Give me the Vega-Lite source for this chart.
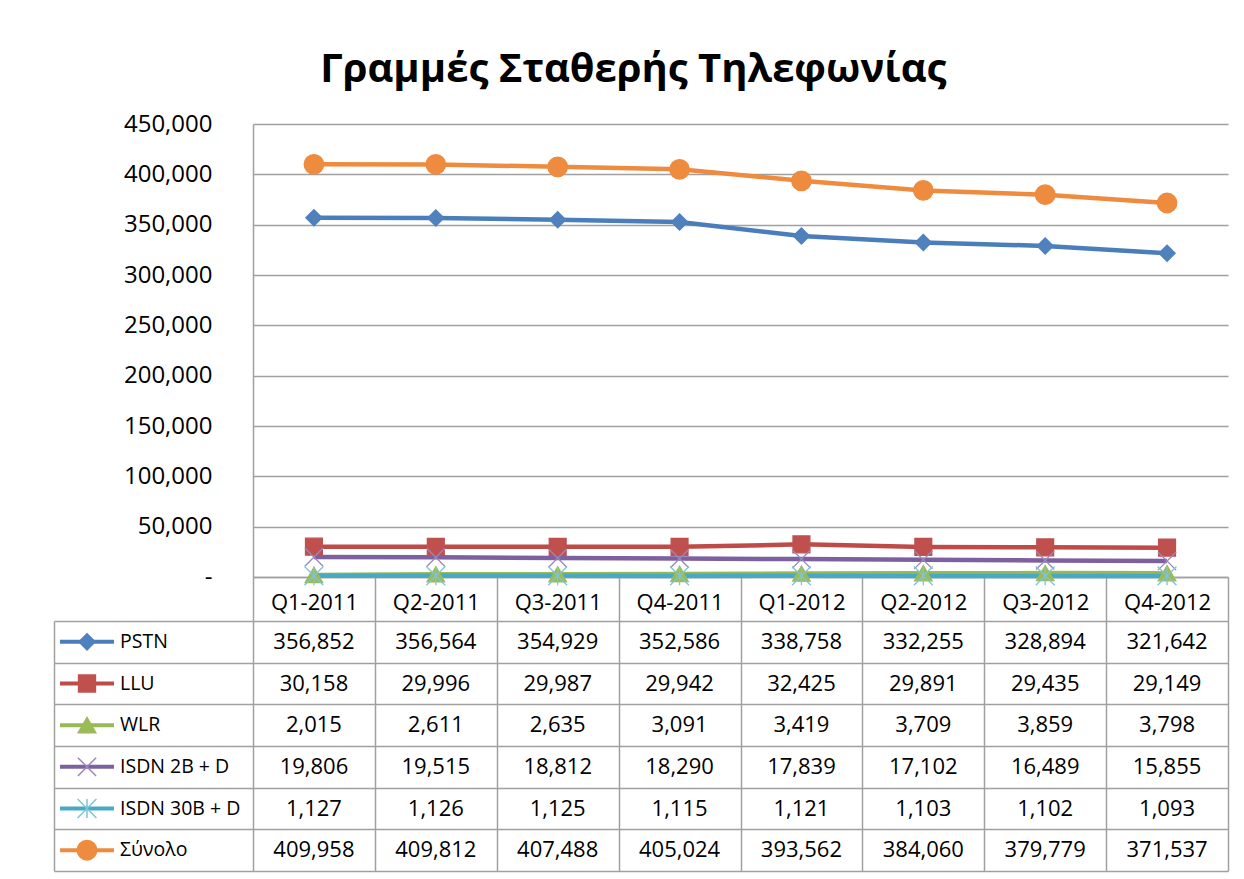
{
  "$schema": "https://vega.github.io/schema/vega-lite/v6.json",
  "padding": {"left": 54, "top": 50, "right": 16, "bottom": 8},
  "background": "white",
  "title": {"text": "Γραμμές Σταθερής Τηλεφωνίας", "fontSize": 40, "fontWeight": "bold", "font": "Open Sans", "color": "#000000", "anchor": "middle", "dx": -8, "offset": 22},
  "config": {"font": "Open Sans", "view": {"stroke": null}},
  "datasets": {
    "d": [
      {"series": "PSTN", "quarter": "Q1-2011", "value": 356852},
      {"series": "PSTN", "quarter": "Q2-2011", "value": 356564},
      {"series": "PSTN", "quarter": "Q3-2011", "value": 354929},
      {"series": "PSTN", "quarter": "Q4-2011", "value": 352586},
      {"series": "PSTN", "quarter": "Q1-2012", "value": 338758},
      {"series": "PSTN", "quarter": "Q2-2012", "value": 332255},
      {"series": "PSTN", "quarter": "Q3-2012", "value": 328894},
      {"series": "PSTN", "quarter": "Q4-2012", "value": 321642},
      {"series": "LLU", "quarter": "Q1-2011", "value": 30158},
      {"series": "LLU", "quarter": "Q2-2011", "value": 29996},
      {"series": "LLU", "quarter": "Q3-2011", "value": 29987},
      {"series": "LLU", "quarter": "Q4-2011", "value": 29942},
      {"series": "LLU", "quarter": "Q1-2012", "value": 32425},
      {"series": "LLU", "quarter": "Q2-2012", "value": 29891},
      {"series": "LLU", "quarter": "Q3-2012", "value": 29435},
      {"series": "LLU", "quarter": "Q4-2012", "value": 29149},
      {"series": "WLR", "quarter": "Q1-2011", "value": 2015},
      {"series": "WLR", "quarter": "Q2-2011", "value": 2611},
      {"series": "WLR", "quarter": "Q3-2011", "value": 2635},
      {"series": "WLR", "quarter": "Q4-2011", "value": 3091},
      {"series": "WLR", "quarter": "Q1-2012", "value": 3419},
      {"series": "WLR", "quarter": "Q2-2012", "value": 3709},
      {"series": "WLR", "quarter": "Q3-2012", "value": 3859},
      {"series": "WLR", "quarter": "Q4-2012", "value": 3798},
      {"series": "ISDN 2B + D", "quarter": "Q1-2011", "value": 19806},
      {"series": "ISDN 2B + D", "quarter": "Q2-2011", "value": 19515},
      {"series": "ISDN 2B + D", "quarter": "Q3-2011", "value": 18812},
      {"series": "ISDN 2B + D", "quarter": "Q4-2011", "value": 18290},
      {"series": "ISDN 2B + D", "quarter": "Q1-2012", "value": 17839},
      {"series": "ISDN 2B + D", "quarter": "Q2-2012", "value": 17102},
      {"series": "ISDN 2B + D", "quarter": "Q3-2012", "value": 16489},
      {"series": "ISDN 2B + D", "quarter": "Q4-2012", "value": 15855},
      {"series": "ISDN 30B + D", "quarter": "Q1-2011", "value": 1127},
      {"series": "ISDN 30B + D", "quarter": "Q2-2011", "value": 1126},
      {"series": "ISDN 30B + D", "quarter": "Q3-2011", "value": 1125},
      {"series": "ISDN 30B + D", "quarter": "Q4-2011", "value": 1115},
      {"series": "ISDN 30B + D", "quarter": "Q1-2012", "value": 1121},
      {"series": "ISDN 30B + D", "quarter": "Q2-2012", "value": 1103},
      {"series": "ISDN 30B + D", "quarter": "Q3-2012", "value": 1102},
      {"series": "ISDN 30B + D", "quarter": "Q4-2012", "value": 1093},
      {"series": "Σύνολο", "quarter": "Q1-2011", "value": 409958},
      {"series": "Σύνολο", "quarter": "Q2-2011", "value": 409812},
      {"series": "Σύνολο", "quarter": "Q3-2011", "value": 407488},
      {"series": "Σύνολο", "quarter": "Q4-2011", "value": 405024},
      {"series": "Σύνολο", "quarter": "Q1-2012", "value": 393562},
      {"series": "Σύνολο", "quarter": "Q2-2012", "value": 384060},
      {"series": "Σύνολο", "quarter": "Q3-2012", "value": 379779},
      {"series": "Σύνολο", "quarter": "Q4-2012", "value": 371537}
    ]
  },
  "columns": 2,
  "spacing": {"row": 44, "column": 0},
  "bounds": "flush",
  "concat": [
    {
      "width": 199,
      "height": 453,
      "data": {"values": [{"a": 1}]},
      "mark": {"type": "text", "text": ""},
      "encoding": {}
    },
    {
      "width": 975,
      "height": 453,
      "data": {"name": "d"},
      "encoding": {
        "x": {
          "field": "quarter", "type": "nominal",
          "scale": {"type": "band", "paddingInner": 0, "paddingOuter": 0, "domain": ["Q1-2011", "Q2-2011", "Q3-2011", "Q4-2011", "Q1-2012", "Q2-2012", "Q3-2012", "Q4-2012"]},
          "axis": {"orient": "bottom", "title": null, "labelAngle": 0, "tickBand": "extent", "ticks": true, "tickSize": 44, "tickColor": "#a0a0a0", "tickWidth": 1.5, "domain": true, "domainColor": "#a0a0a0", "domainWidth": 1.5, "grid": false, "labelFontSize": 22, "labelColor": "#000000", "labelPadding": -19, "labelBaseline": "middle", "labelFont": "Open Sans"}
        },
        "y": {
          "field": "value", "type": "quantitative",
          "scale": {"domain": [0, 450000], "nice": false},
          "axis": {"title": null, "values": [0, 50000, 100000, 150000, 200000, 250000, 300000, 350000, 400000, 450000], "labelExpr": "datum.value === 0 ? '-\u00a0\u00a0' : format(datum.value, ',')", "labelFontSize": 24, "labelColor": "#000000", "labelFont": "Open Sans", "labelPadding": 41, "ticks": false, "domain": true, "domainColor": "#a0a0a0", "domainWidth": 1.5, "grid": true, "gridColor": "#a0a0a0", "gridWidth": 1.5, "labelOverlap": false}
        }
      },
      "layer": [
        {
          "mark": {"type": "line", "strokeWidth": 4.5},
          "encoding": {
            "color": {"field": "series", "type": "nominal", "legend": null, "scale": {"domain": ["PSTN", "LLU", "WLR", "ISDN 2B + D", "ISDN 30B + D", "Σύνολο"], "range": ["#4A7EBB", "#BE4B48", "#98B954", "#7D60A0", "#46AAC5", "#EE8B3E"]}}
          }
        },
        {
          "mark": {"type": "point", "filled": true, "opacity": 1, "strokeWidth": 1.3},
          "encoding": {
            "shape": {"field": "series", "type": "nominal", "legend": null, "scale": {"domain": ["PSTN", "LLU", "WLR", "ISDN 2B + D", "ISDN 30B + D", "Σύνολο"], "range": ["diamond", "square", "triangle-up", "M-1,-1L1,1M1,-1L-1,1", "M-1,-1L1,1M1,-1L-1,1M0,-1L0,1", "circle"]}},
            "fill": {"field": "series", "type": "nominal", "legend": null, "scale": {"domain": ["PSTN", "LLU", "WLR", "ISDN 2B + D", "ISDN 30B + D", "Σύνολο"], "range": ["#4F81BD", "#C0504D", "#9BBB59", "#8064A2", "#4BACC6", "#EE8B3E"]}},
            "stroke": {"field": "series", "type": "nominal", "legend": null, "scale": {"domain": ["PSTN", "LLU", "WLR", "ISDN 2B + D", "ISDN 30B + D", "Σύνολο"], "range": ["#4F81BD", "#C0504D", "#9BBB59", "#9B86BA", "#7FC3D8", "#EE8B3E"]}},
            "size": {"field": "series", "type": "ordinal", "legend": null, "scale": {"domain": ["PSTN", "LLU", "WLR", "ISDN 2B + D", "ISDN 30B + D", "Σύνολο"], "range": [260, 380, 300, 400, 400, 400]}}
          }
        }
      ]
    },
    {
      "width": 199,
      "height": 250,
      "data": {"name": "d"},
      "transform": [{"filter": {"field": "quarter", "equal": "Q1-2011"}}],
      "encoding": {
        "y": {
          "field": "series", "type": "nominal",
          "scale": {"type": "band", "domain": ["PSTN", "LLU", "WLR", "ISDN 2B + D", "ISDN 30B + D", "Σύνολο"], "paddingInner": 0, "paddingOuter": 0},
          "axis": {"title": null, "labels": false, "ticks": false, "domain": true, "domainColor": "#a0a0a0", "domainWidth": 1.5, "grid": true, "tickBand": "extent", "gridColor": "#a0a0a0", "gridWidth": 1.5}
        },
        "x": {
          "field": "quarter", "type": "nominal",
          "scale": {"type": "band", "paddingInner": 0.2552, "paddingOuter": 1, "align": 0.0414},
          "axis": null
        }
      },
      "layer": [
        {
          "mark": {"type": "bar", "height": 4},
          "encoding": {
            "color": {"field": "series", "type": "nominal", "legend": null, "scale": {"domain": ["PSTN", "LLU", "WLR", "ISDN 2B + D", "ISDN 30B + D", "Σύνολο"], "range": ["#4A7EBB", "#BE4B48", "#98B954", "#7D60A0", "#46AAC5", "#EE8B3E"]}}
          }
        },
        {
          "mark": {"type": "point", "filled": true, "opacity": 1, "strokeWidth": 1.5},
          "encoding": {
            "shape": {"field": "series", "type": "nominal", "legend": null, "scale": {"domain": ["PSTN", "LLU", "WLR", "ISDN 2B + D", "ISDN 30B + D", "Σύνολο"], "range": ["diamond", "square", "triangle-up", "M-1,-1L1,1M1,-1L-1,1", "M-1,-1L1,1M1,-1L-1,1M0,-1L0,1", "circle"]}},
            "fill": {"field": "series", "type": "nominal", "legend": null, "scale": {"domain": ["PSTN", "LLU", "WLR", "ISDN 2B + D", "ISDN 30B + D", "Σύνολο"], "range": ["#4F81BD", "#C0504D", "#9BBB59", "#8064A2", "#4BACC6", "#EE8B3E"]}},
            "stroke": {"field": "series", "type": "nominal", "legend": null, "scale": {"domain": ["PSTN", "LLU", "WLR", "ISDN 2B + D", "ISDN 30B + D", "Σύνολο"], "range": ["#4F81BD", "#C0504D", "#9BBB59", "#8064A2", "#4BACC6", "#EE8B3E"]}},
            "size": {"field": "series", "type": "ordinal", "legend": null, "scale": {"domain": ["PSTN", "LLU", "WLR", "ISDN 2B + D", "ISDN 30B + D", "Σύνολο"], "range": [170, 220, 200, 220, 220, 230]}}
          }
        },
        {
          "mark": {"type": "text", "align": "left", "baseline": "middle", "dx": 6, "fontSize": 19.5, "color": "#000000"},
          "encoding": {
            "text": {"field": "series", "type": "nominal"},
            "x": {"field": "quarter", "type": "nominal", "bandPosition": 1}
          }
        }
      ]
    },
    {
      "width": 975,
      "height": 250,
      "data": {"name": "d"},
      "mark": {"type": "text", "fontSize": 22, "color": "#000000", "baseline": "middle"},
      "encoding": {
        "x": {
          "field": "quarter", "type": "nominal",
          "scale": {"type": "band", "domain": ["Q1-2011", "Q2-2011", "Q3-2011", "Q4-2011", "Q1-2012", "Q2-2012", "Q3-2012", "Q4-2012"], "paddingInner": 0, "paddingOuter": 0},
          "axis": {"title": null, "labels": false, "ticks": false, "domain": false, "grid": true, "tickBand": "extent", "gridColor": "#a0a0a0", "gridWidth": 1.5}
        },
        "y": {
          "field": "series", "type": "nominal",
          "scale": {"type": "band", "domain": ["PSTN", "LLU", "WLR", "ISDN 2B + D", "ISDN 30B + D", "Σύνολο"], "paddingInner": 0, "paddingOuter": 0},
          "axis": {"title": null, "labels": false, "ticks": false, "domain": false, "grid": true, "tickBand": "extent", "gridColor": "#a0a0a0", "gridWidth": 1.5}
        },
        "text": {"field": "value", "type": "quantitative", "format": ","}
      }
    }
  ]
}
